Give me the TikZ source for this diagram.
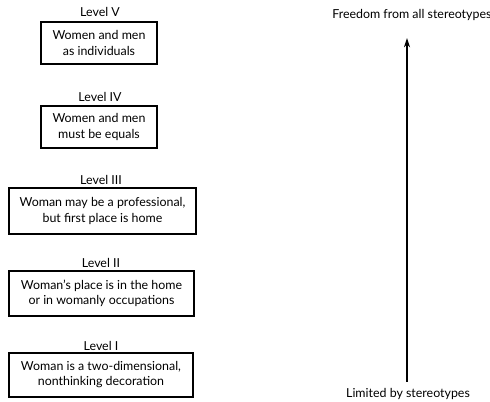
\documentclass[tikz,border=0pt]{standalone}
\usepackage{fontspec}
\setmainfont{Lato}
\usetikzlibrary{arrows.meta}
\begin{document}
\begin{tikzpicture}[x=0.75pt,y=-0.75pt,
  lvbox/.style={draw,line width=0.9pt,align=center,font=\fontsize{9.3}{11.3}\selectfont,inner sep=0pt},
  lvlabel/.style={font=\fontsize{9.3}{11}\selectfont,inner sep=0pt},
  endlabel/.style={font=\fontsize{9.3}{11}\selectfont,inner sep=0pt}]
\useasboundingbox (0,0) rectangle (490,402);
\node[lvbox,minimum width=116*0.75pt,minimum height=42*0.75pt] (b5) at (99,43) {Women and men\\as individuals};
\node[lvbox,minimum width=116*0.75pt,minimum height=42*0.75pt] (b4) at (99,127) {Women and men\\must be equals};
\node[lvbox,minimum width=187*0.75pt,minimum height=46*0.75pt] (b3) at (102.5,211) {Woman may be a professional,\\but first place is home};
\node[lvbox,minimum width=185*0.75pt,minimum height=45*0.75pt] (b2) at (101.5,293.5) {Woman's place is in the home\\or in womanly occupations};
\node[lvbox,minimum width=184*0.75pt,minimum height=44*0.75pt] (b1) at (101,375) {Woman is a two-dimensional,\\nonthinking decoration};
\node[lvlabel] (l5) at (100,12) {Level V};
\node[lvlabel] (l4) at (100,97) {Level IV};
\node[lvlabel] (l3) at (101,180) {Level III};
\node[lvlabel] (l2) at (101,263) {Level II};
\node[lvlabel] (l1) at (101,346) {Level I};
\node[endlabel,anchor=west] (top) at (332,15) {Freedom from all stereotypes};
\node[endlabel] (bot) at (408,394) {Limited by stereotypes};
\coordinate (a0) at (407,382);
\coordinate (a1) at (407,38);
\draw[line width=0.9pt,-{Stealth[length=7pt,width=4.5pt]}] (a0) -- (a1);
\end{tikzpicture}
\end{document}
